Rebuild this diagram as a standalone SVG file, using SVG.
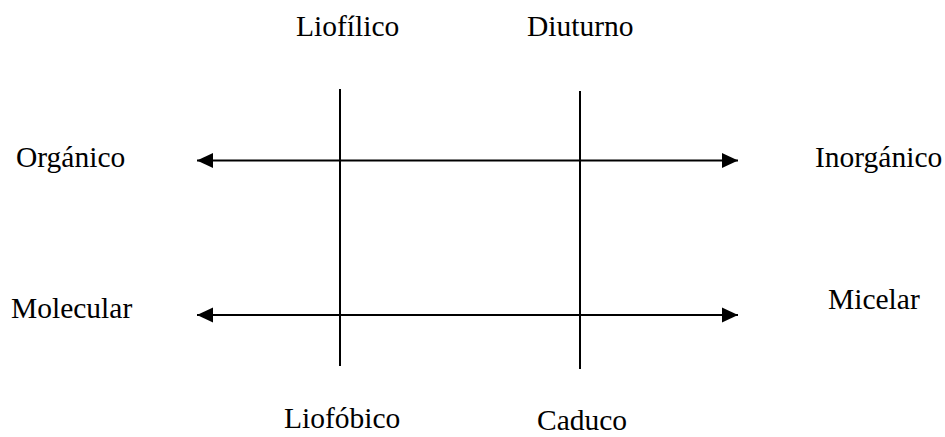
<svg xmlns="http://www.w3.org/2000/svg" width="945" height="437" viewBox="0 0 945 437">
<style>
text{font-family:"Liberation Serif","Times New Roman",serif;font-size:29.5px;fill:#000}
.ln{stroke:#000;stroke-width:2;fill:none}
</style>
<defs>
<marker id="ah" markerUnits="userSpaceOnUse" markerWidth="16" markerHeight="16" viewBox="0 0 16 16" refX="16" refY="8" orient="auto-start-reverse">
<polygon points="0,0.5 16,8 0,15.5" fill="#000"/>
</marker>
</defs>
<rect width="945" height="437" fill="#fff"/>
<g id="connectors">
<line class="ln" x1="197" y1="160.5" x2="738" y2="160.5" marker-start="url(#ah)" marker-end="url(#ah)"/>
<line class="ln" x1="197" y1="315" x2="738" y2="315" marker-start="url(#ah)" marker-end="url(#ah)"/>
<line class="ln" x1="340" y1="89" x2="340" y2="366"/>
<line class="ln" x1="580" y1="91" x2="580" y2="369"/>
</g>
<g id="liofilico"><text x="296" y="36">Liofílico</text></g>
<g id="diuturno"><text x="527" y="36">Diuturno</text></g>
<g id="organico"><text x="16" y="167">Orgánico</text></g>
<g id="inorganico"><text x="815" y="167">Inorgánico</text></g>
<g id="molecular"><text x="11" y="318">Molecular</text></g>
<g id="micelar"><text x="828" y="309">Micelar</text></g>
<g id="liofobico"><text x="284" y="428">Liofóbico</text></g>
<g id="caduco"><text x="537" y="430">Caduco</text></g>
</svg>
